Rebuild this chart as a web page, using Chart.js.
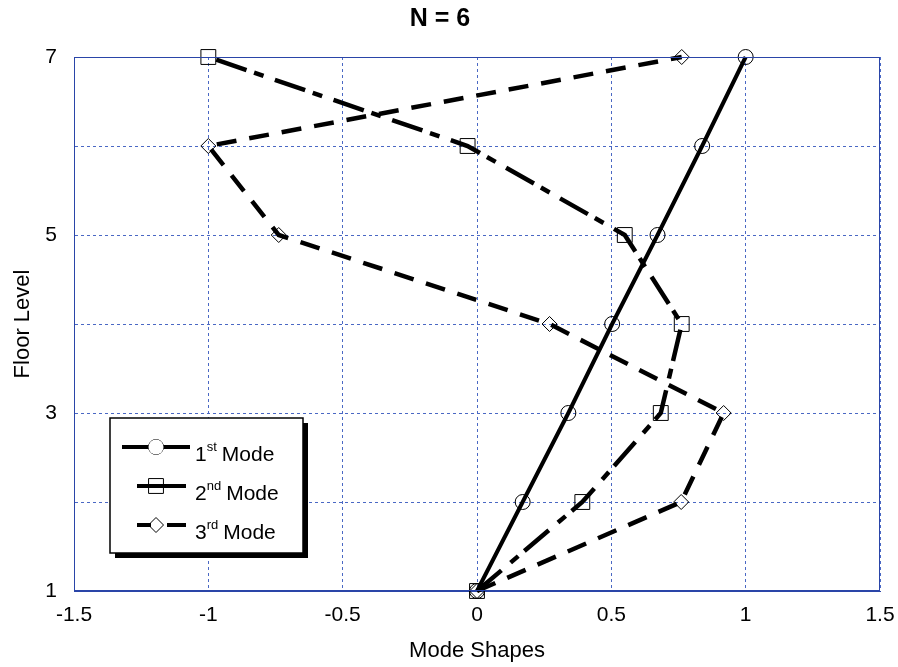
<!DOCTYPE html>
<html>
<head>
<meta charset="utf-8">
<script src="https://cdn.jsdelivr.net/npm/chart.js@4.4.1/dist/chart.umd.min.js"></script>
<style>
  html, body { margin: 0; padding: 0; background: #fff; }
  #wrap { width: 898px; height: 667px; }
</style>
</head>
<body>
<div id="wrap"><canvas id="modeChart" width="898" height="667"></canvas></div>
<script>
// Floor levels (y) and mode shape values (x)
const floors = [1, 2, 3, 4, 5, 6, 7];
const mode1 = [0, 0.17, 0.34, 0.503, 0.672, 0.838, 1];
const mode2 = [0, 0.392, 0.684, 0.762, 0.55, -0.035, -1];
const mode3 = [0, 0.76, 0.918, 0.27, -0.738, -1, 0.762];

const modeNames = ['1', '2', '3'];
const modeSups = ['st', 'nd', 'rd'];

const FONT = '"Liberation Sans", Arial, sans-serif';
const gridBlue = '#4a68c4';
const borderBlue = '#2a45a8';

function toPoints(values) {
  return values.map((v, i) => ({ x: v, y: floors[i] }));
}

// Frame around the plot area plus the boxed legend with shadow
const framePlugin = {
  id: 'frame',
  afterDatasetsDraw(chart) {
    const { ctx, chartArea: a } = chart;
    ctx.save();
    ctx.strokeStyle = borderBlue;
    ctx.lineWidth = 1;
    ctx.setLineDash([]);
    ctx.strokeRect(a.left + 0.5, a.top + 0.5, a.right - a.left - 1, a.bottom - a.top - 1);
    ctx.restore();
  },
  afterDraw(chart) {
    const { ctx } = chart;
    const bx = 110, by = 418, bw = 193, bh = 135;
    ctx.save();
    ctx.fillStyle = '#000';
    ctx.fillRect(bx + 5, by + 5, bw, bh);
    ctx.fillStyle = '#fff';
    ctx.fillRect(bx, by, bw, bh);
    ctx.strokeStyle = '#000';
    ctx.lineWidth = 1.5;
    ctx.strokeRect(bx, by, bw, bh);

    const rows = [
      { y: 447, x0: 122, x1: 190, segs: null, shape: 'circle' },
      { y: 486, x0: 137, x1: 186, segs: null, shape: 'rect' },
      { y: 525, x0: 137, x1: 186, segs: [[137, 151], [167, 186]], shape: 'rectRot' }
    ];
    rows.forEach((r, i) => {
      ctx.strokeStyle = '#000';
      ctx.lineWidth = 4;
      ctx.setLineDash([]);
      ctx.beginPath();
      const segs = r.segs || [[r.x0, r.x1]];
      segs.forEach(s => { ctx.moveTo(s[0], r.y); ctx.lineTo(s[1], r.y); });
      ctx.stroke();
      const ds = chart.data.datasets[i];
      ctx.lineWidth = 1;
      ctx.fillStyle = i === 0 ? '#fff' : 'rgba(0,0,0,0)';
      Chart.helpers.drawPoint(ctx, {
        pointStyle: r.shape, radius: ds.pointRadius, borderWidth: 1, rotation: 0
      }, 156, r.y);
      if (i === 0) ctx.fill();

      ctx.fillStyle = '#000';
      ctx.textBaseline = 'alphabetic';
      ctx.textAlign = 'left';
      const base = r.y + 14;
      ctx.font = '21px ' + FONT;
      let tx = 195;
      ctx.fillText(modeNames[i], tx, base);
      tx += ctx.measureText(modeNames[i]).width;
      ctx.font = '13px ' + FONT;
      ctx.fillText(modeSups[i], tx, base - 10);
      tx += ctx.measureText(modeSups[i]).width + 5;
      ctx.font = '21px ' + FONT;
      ctx.fillText('Mode', tx, base);
    });
    ctx.restore();
  }
};

const ctx = document.getElementById('modeChart').getContext('2d');
const modeChart = new Chart(ctx, {
  type: 'line',
  data: {
    datasets: [
      {
        label: '1st Mode',
        data: toPoints(mode1),
        borderColor: '#000',
        borderWidth: 4,
        pointStyle: 'circle',
        pointRadius: 7.5,
        pointBorderWidth: 1,
        pointBorderColor: '#000',
        pointBackgroundColor: 'rgba(0,0,0,0)'
      },
      {
        label: '2nd Mode',
        data: toPoints(mode2),
        borderColor: '#000',
        borderWidth: 4.5,
        borderDash: [32, 12, 10, 8],
        pointStyle: 'rect',
        pointRadius: 10.5,
        pointBorderWidth: 1,
        pointBorderColor: '#000',
        pointBackgroundColor: 'rgba(0,0,0,0)'
      },
      {
        label: '3rd Mode',
        data: toPoints(mode3),
        borderColor: '#000',
        borderWidth: 4.5,
        borderDash: [20, 13],
        pointStyle: 'rectRot',
        pointRadius: 7.5,
        pointBorderWidth: 1,
        pointBorderColor: '#000',
        pointBackgroundColor: 'rgba(0,0,0,0)'
      }
    ]
  },
  options: {
    responsive: false,
    animation: false,
    clip: false,
    layout: { padding: { left: 0, right: 18, top: 0, bottom: 0 } },
    plugins: {
      legend: { display: false },
      tooltip: { enabled: false },
      title: {
        display: true,
        text: 'N = 6',
        color: '#000',
        font: { family: FONT, size: 25, weight: 'bold' },
        padding: { top: 4, bottom: 23 }
      }
    },
    scales: {
      x: {
        type: 'linear',
        min: -1.5,
        max: 1.5,
        afterFit(scale) {
          scale.height = 76;
          scale.paddingLeft = 0;
          scale.paddingRight = 0;
        },
        ticks: {
          stepSize: 0.5,
          color: '#000',
          padding: 12,
          maxRotation: 0,
          font: { family: FONT, size: 21 },
          callback: v => String(v)
        },
        grid: {
          color: gridBlue,
          lineWidth: 1,
          drawTicks: false
        },
        border: { display: true, color: borderBlue, dash: [3, 3] },
        title: {
          display: true,
          text: 'Mode Shapes',
          color: '#000',
          font: { family: FONT, size: 22 },
          padding: { top: 0, bottom: 3 }
        }
      },
      y: {
        type: 'linear',
        min: 1,
        max: 7,
        afterFit(scale) {
          scale.width = 74;
          scale.paddingTop = 0;
          scale.paddingBottom = 0;
        },
        ticks: {
          stepSize: 1,
          color: '#000',
          padding: 17,
          font: { family: FONT, size: 21 },
          callback: v => (v % 2 === 1 ? String(v) : '')
        },
        grid: {
          color: gridBlue,
          lineWidth: 1,
          drawTicks: false
        },
        border: { display: true, color: borderBlue, dash: [3, 3] },
        title: {
          display: true,
          text: 'Floor Level',
          color: '#000',
          font: { family: FONT, size: 22 },
          padding: { top: 10, bottom: 0 }
        }
      }
    }
  },
  plugins: [framePlugin]
});
</script>
</body>
</html>
